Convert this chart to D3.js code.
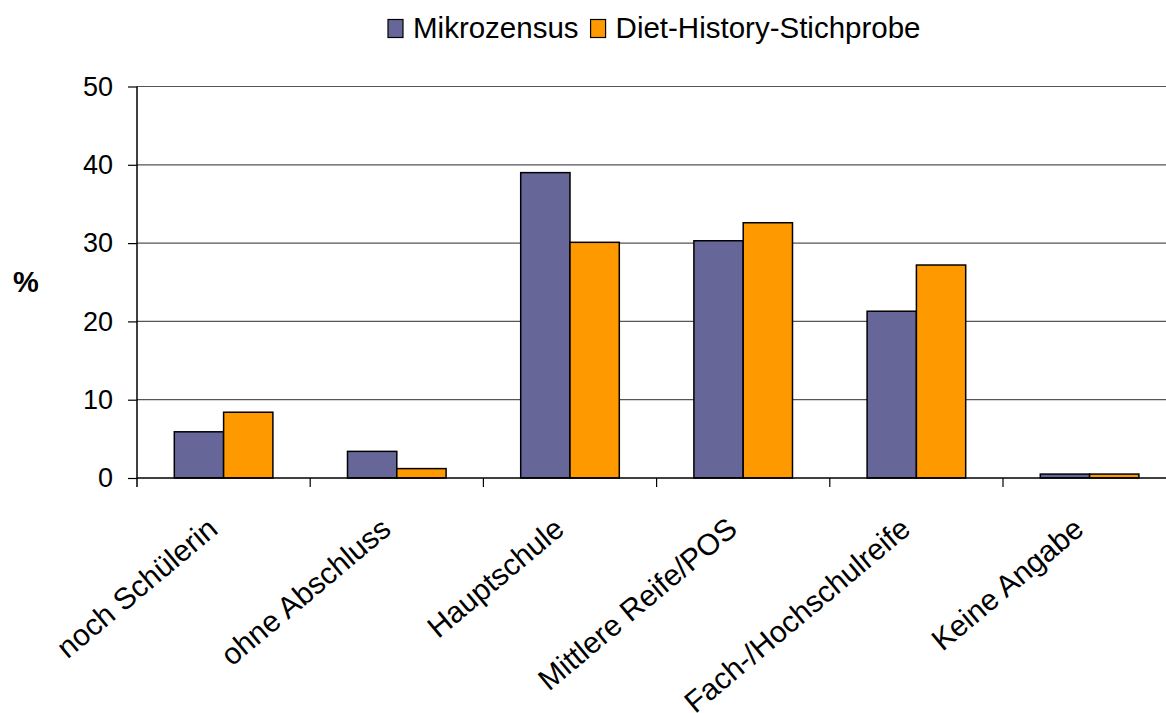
<!DOCTYPE html>
<html>
<head>
<meta charset="utf-8">
<script src="https://cdn.jsdelivr.net/npm/d3@7"></script>
<style>
	body { margin: 0; background: #fff; }
	text { font-family: Arial, "Liberation Sans", sans-serif; fill: #000; }
</style>
</head>
<body>
<div class="container"></div>
<script>
// data
var categories = ['noch Schülerin', 'ohne Abschluss', 'Hauptschule', 'Mittlere Reife/POS', 'Fach-/Hochschulreife', 'Keine Angabe'];
var seriesNames = ['Mikrozensus', 'Diet-History-Stichprobe'];
var mikrozensus = [5.9, 3.4, 39.0, 30.3, 21.3, 0.5];
var dietHistory = [8.4, 1.2, 30.1, 32.6, 27.2, 0.5];
var yTicks = [0, 10, 20, 30, 40, 50];
var colors = ['#666699', '#FF9900'];

const WIDTH = 1166;
const HEIGHT = 713;
const LEFT = 137;
const BAND = 173.2;
const TOP = 86.5;
const BOTTOM = 478;

var rows = categories.map(function(c, i){
	return {cat: c, values: [mikrozensus[i], dietHistory[i]]};
});

var svg = d3.select('.container').append('svg')
	.attr('width', WIDTH)
	.attr('height', HEIGHT);

var xScale = d3.scaleBand()
	.domain(categories)
	.range([LEFT, LEFT + BAND * categories.length]);

var gap = (BAND - 2 * 49.3) / 2;
var x1 = d3.scaleBand()
	.domain([0, 1])
	.range([gap, BAND - gap]);

var yScale = d3.scaleLinear()
	.domain([0, 50])
	.range([BOTTOM, TOP]);

// gridlines
svg.append('g')
	.selectAll('line')
	.data(yTicks.slice(1))
	.enter().append('line')
	.attr('x1', LEFT)
	.attr('x2', WIDTH)
	.attr('y1', function(d){ return yScale(d); })
	.attr('y2', function(d){ return yScale(d); })
	.attr('stroke', '#555')
	.attr('stroke-width', 1.2);

// bars
var groups = svg.append('g')
	.selectAll('g')
	.data(rows)
	.enter().append('g')
	.attr('transform', function(d){ return 'translate(' + xScale(d.cat) + ',0)'; });

groups.selectAll('rect')
	.data(function(d){ return d.values; })
	.enter().append('rect')
	.attr('x', function(v, i){ return x1(i); })
	.attr('width', x1.bandwidth())
	.attr('y', function(v){ return yScale(v); })
	.attr('height', function(v){ return yScale(0) - yScale(v); })
	.attr('fill', function(v, i){ return colors[i]; })
	.attr('stroke', '#000')
	.attr('stroke-width', 1.5);

// y axis
var yAxis = d3.axisLeft(yScale).tickValues(yTicks).tickSize(9).tickPadding(15);
var gy = svg.append('g')
	.attr('transform', 'translate(' + LEFT + ',0)')
	.call(yAxis);
gy.select('.domain').attr('d', 'M0,' + TOP + 'V' + (BOTTOM + 9)).attr('stroke', '#000').attr('stroke-width', 1.5);
gy.selectAll('.tick line').attr('stroke', '#000').attr('stroke-width', 1.2);
gy.selectAll('.tick text')
	.style('font-size', '27px')
	.style('font-family', 'Arial, "Liberation Sans", sans-serif');

// x axis
var gx = svg.append('g')
	.attr('transform', 'translate(0,' + BOTTOM + ')');
gx.append('line')
	.attr('x1', LEFT)
	.attr('x2', WIDTH)
	.attr('stroke', '#000')
	.attr('stroke-width', 1.5);
gx.selectAll('.xtick')
	.data(categories.slice(1))
	.enter().append('line')
	.attr('class', 'xtick')
	.attr('x1', function(d){ return xScale(d); })
	.attr('x2', function(d){ return xScale(d); })
	.attr('y1', 0)
	.attr('y2', 9)
	.attr('stroke', '#000')
	.attr('stroke-width', 1.2);

gx.selectAll('.xlabel')
	.data(categories)
	.enter().append('text')
	.attr('class', 'xlabel')
	.attr('text-anchor', 'end')
	.attr('transform', function(d){
		return 'translate(' + (xScale(d) + BAND / 2 - 4) + ',54) rotate(-40)';
	})
	.style('font-size', '30px')
	.text(function(d){ return d; });

// y title
svg.append('text')
	.attr('x', 26)
	.attr('y', 292)
	.attr('text-anchor', 'middle')
	.style('font-size', '29px')
	.style('font-weight', 'bold')
	.text('%');

// legend
var legend = svg.append('g').attr('transform', 'translate(388,0)');
var lx = 0;
seriesNames.forEach(function(name, i){
	var item = legend.append('g').attr('transform', 'translate(' + lx + ',0)');
	item.append('rect')
		.attr('x', 0)
		.attr('y', 19.5)
		.attr('width', 15)
		.attr('height', 18)
		.attr('fill', colors[i])
		.attr('stroke', '#000')
		.attr('stroke-width', 1.2);
	var t = item.append('text')
		.attr('x', 25)
		.attr('y', 38)
		.style('font-size', '29.5px')
		.text(name);
	lx += 25 + t.node().getComputedTextLength() + 12;
});
</script>
</body>
</html>
